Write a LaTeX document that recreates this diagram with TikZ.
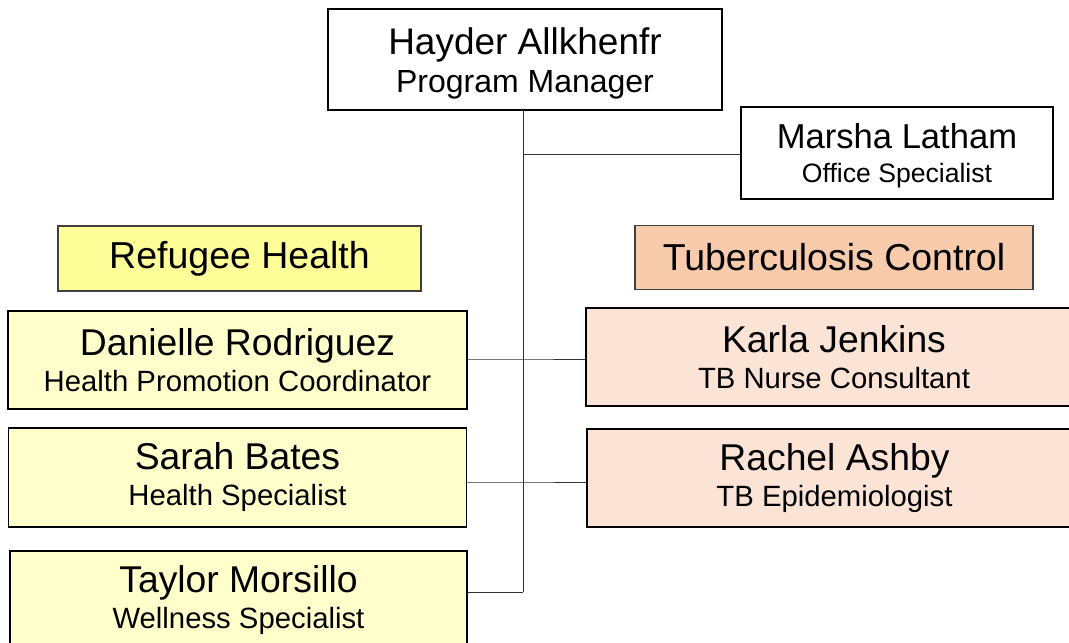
\documentclass[tikz,border=0pt]{standalone}
\usepackage{fontspec}
\setmainfont{Liberation Sans}
\definecolor{ylTitle}{HTML}{FFFF99}
\definecolor{ylBox}{HTML}{FFFFCC}
\definecolor{pkTitle}{HTML}{F8CBAD}
\definecolor{pkBox}{HTML}{FBE4D6}
\definecolor{lineC}{HTML}{333333}
\tikzset{
  pbox/.style={draw=black, line width=1.6pt, rectangle, inner sep=0pt, align=center,
    font=\fontsize{37.3}{36}\selectfont},
  tbox/.style={draw=black!75, line width=1.1pt, rectangle, inner sep=0pt, align=center,
    font=\fontsize{37.5}{36}\selectfont},
  conn/.style={draw=lineC, line width=1pt},
}
\newcommand{\subt}[1]{{\fontsize{29.3}{36}\selectfont #1}}
\begin{document}
\begin{tikzpicture}[x=1pt,y=-1pt]
\useasboundingbox (0,0) rectangle (1069,643);
\clip (0,0) rectangle (1069,643);
% top
\node[pbox, line width=1.2pt, fill=white, minimum width=394pt, minimum height=101pt,
  font=\fontsize{37}{38}\selectfont] (top) at (525,59.5) {};
\node[align=center, inner sep=0pt, font=\fontsize{37}{38}\selectfont] (topT) at ([yshift=-4pt]top.center)
  {Hayder Allkhenfr\\{\fontsize{32}{38}\selectfont Program Manager}};
\node[pbox, line width=1.2pt, fill=white, minimum width=312pt, minimum height=92pt] (marsha) at (897,153) {};
\node[align=center, inner sep=0pt, font=\fontsize{34.6}{34}\selectfont] (marshaT) at ([yshift=-3pt]marsha.center)
  {Marsha Latham\\{\fontsize{26.6}{34}\selectfont Office Specialist}};
% titles
\node[tbox, fill=ylTitle, minimum width=363pt, minimum height=65pt] (refh) at (239.5,258.5) {Refugee Health};
\node[tbox, fill=pkTitle, minimum width=398pt, minimum height=64pt] (tbc) at (834,257.5) {Tuberculosis Control};
% left column
\node[pbox, fill=ylBox, minimum width=459pt, minimum height=98pt] (dan) at (237.5,360)
  {Danielle Rodriguez\\\subt{Health Promotion Coordinator}};
\node[pbox, fill=ylBox, minimum width=458pt, minimum height=99pt] (sarah) at (237.5,477.5)
  {Sarah Bates\\\subt{Health Specialist}};
\node[pbox, fill=ylBox, minimum width=457pt, minimum height=98pt] (taylor) at (238.5,600)
  {Taylor Morsillo\\\subt{Wellness Specialist}};
% right column
\node[pbox, fill=pkBox, minimum width=496pt, minimum height=98pt] (karla) at (834,357)
  {Karla Jenkins\\\subt{TB Nurse Consultant}};
\node[pbox, fill=pkBox, minimum width=495pt, minimum height=98pt] (rachel) at (834.5,478)
  {Rachel Ashby\\\subt{TB Epidemiologist}};
% connectors
\coordinate (jt) at (523,110);
\coordinate (jm) at (523,154);
\coordinate (jd) at (523,359);
\coordinate (js) at (523,482);
\coordinate (jb) at (523,592);
\draw[conn] (jt) -- (jb);
\draw[conn] (jm) -- (jm -| marsha.west);
\draw[conn] (jd -| dan.east) -- (jd) -- (jd -| karla.west);
\draw[conn] (js -| sarah.east) -- (js) -- (js -| rachel.west);
\draw[conn] (jb -| taylor.east) -- (jb);
\end{tikzpicture}
\end{document}
